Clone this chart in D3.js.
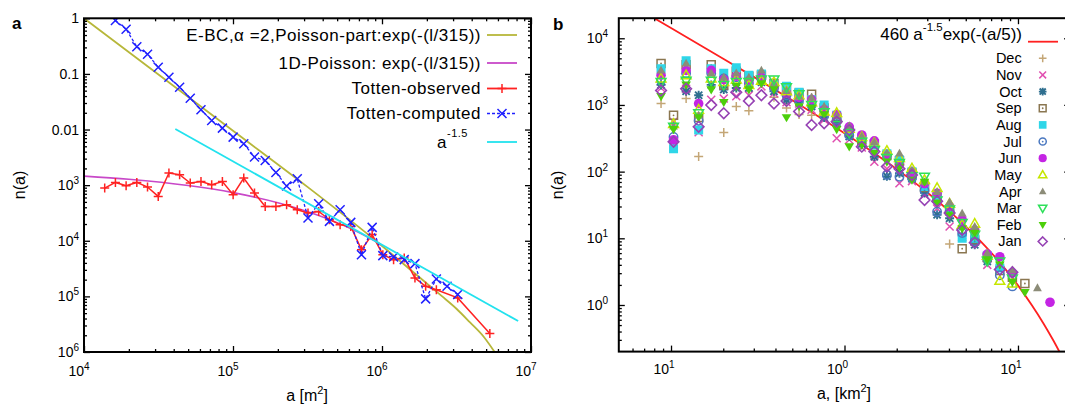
<!DOCTYPE html>
<html>
<head>
<meta charset="utf-8">
<script src="https://cdnjs.cloudflare.com/ajax/libs/d3/7.8.5/d3.min.js"></script>
<style>
html,body{margin:0;padding:0;background:#fff;}
svg text{font-family:"Liberation Sans",Arial,Helvetica,sans-serif;fill:#000;}
</style>
</head>
<body>
<svg id="chart" width="1065" height="408" xmlns="http://www.w3.org/2000/svg"></svg>
<script>
// ================= Panel a data =================
// E-BC, alpha=2, Poisson-part (olive)
const ebcA = [1e4, 1e5, 3.16e5, 8.7e5, 1.58e6, 2.51e6, 3.16e6, 3.9e6, 4.8e6, 5.7e6];
const ebcN = [1, 9.5e-3, 9.3e-4, 1.1e-4, 2.9e-5, 1.02e-5, 6.0e-6, 3.4e-6, 1.9e-6, 1.0e-6];
// 1D-Poisson (magenta)
const poisA = [1e4, 2e4, 5e4, 1e5, 2e5, 3e5, 5e5, 7e5, 1e6];
const poisN = [1.456e-3, 1.277e-3, 9.83e-4, 7.33e-4, 4.83e-4, 3.51e-4, 2.12e-4, 1.40e-4, 8.36e-5];
// a^-1.5 (cyan)
const powA = [4.1e4, 8.2e6];
const powN = [1.02e-2, 3.6e-6];
// Totten-observed (red +)
const obsA = [13770,16250,19170,22620,26690,31490,37150,43830,51650,60970,71940,84890,100200,118100,139400,164500,194100,229000,270000,318700,376000,443700,523500,617100,728100,859100,1013000,1196000,1410000,1664000,1963000,2317000,3222000,5294000];
const obsN = [8.87e-4,1.12e-3,9.75e-4,1.12e-3,9.25e-4,6.27e-4,1.65e-3,1.54e-3,1.09e-3,1.16e-3,1.02e-3,1.16e-3,6.73e-4,1.34e-3,7.21e-4,4.15e-4,4.15e-4,4.45e-4,3.61e-4,3.15e-4,3.37e-4,2.39e-4,1.95e-4,1.81e-4,6.92e-5,1.29e-4,5.62e-5,4.58e-5,4.91e-5,2.15e-5,1.52e-5,1.32e-5,9.40e-6,2.15e-6];
// Totten-computed (blue x)
const compA = [16250,19170,22620,26690,31490,37150,43830,51650,60970,71940,84890,100200,118100,139400,164500,194100,229000,270000,318700,376000,443700,523500,617100,728100,859100,1013000,1196000,1410000,1664000,1963000,2317000,2733000,3222000];
const compN = [0.913,0.635,0.309,0.226,0.132,0.0873,0.0577,0.0366,0.0226,0.0145,0.0106,7.31e-3,5.54e-3,3.20e-3,2.77e-3,1.69e-3,9.64e-4,1.30e-3,2.57e-4,4.63e-4,2.23e-4,3.62e-4,2.14e-4,5.62e-5,1.74e-4,5.40e-5,5.12e-5,4.58e-5,3.88e-5,9.02e-6,2.06e-5,1.52e-5,1.08e-5];

const aXTicks = [1e4, 1e5, 1e6, 1e7];
const aXTickLabels = [["10","4"],["10","5"],["10","6"],["10","7"]];
const aYTicks = [1, 0.1, 0.01, 1e-3, 1e-4, 1e-5, 1e-6];
const aYTickLabels = [["1",""],["0.1",""],["0.01",""],["10","3"],["10","4"],["10","5"],["10","6"]];

// ================= Panel b data =================
const fitA = [0.075,0.1,0.15,0.2,0.3,0.5,0.7,1,1.5,2,3,4,5,6,7,8.5,10,12,14,16,18];
const fitN = [22063,14258,7684,4943,2637,1177,683,376.6,185.5,109.0,48.6,25.8,15.14,9.43,6.13,3.39,1.97,1.00,0.534,0.293,0.165];
// area bins (km^2) shared by all months
const binArea = [0.0876,0.1034,0.1222,0.1443,0.1705,0.2014,0.2378,0.2810,0.3319,0.3921,0.4632,0.5470,0.6462,0.7633,0.9016,1.065,1.258,1.486,1.755,2.074,2.449,2.893,3.418,4.036,4.768,5.632,6.653,7.859,9.284,10.96,12.95,15.30];
const dec = [1050,null,1250,168,null,385,950,820,null,1300,900,720,700,null,null,null,null,null,null,null,null,null,null,8.2,null,null,null,null,null,null,null,null];
const nov = [1800,560,1750,390,1200,1250,1350,1400,1900,1500,1100,1050,850,600,316,300,230,141,110,67,72,45,28,15,10.5,10,4.0,null,null,null,null,null];
const oct = [2000,290,1600,1400,2000,1700,1800,1800,2200,1600,1200,1100,950,650,540,336,260,167,85,95,78,48,22.5,20,11,8,4.5,null,null,null,null,null];
const sep = [4200,700,4000,650,4000,2000,3200,2700,2800,2100,1700,1500,1450,900,650,400,300,260,175,145,95,58,40,26,7,9.4,5.2,3.3,2.6,2.1,null,null];
const aug = [3500,220,4600,420,3500,3000,3600,2800,2900,2000,1900,1550,1200,1000,700,420,320,250,185,150,100,60,42,28,10,10,5.5,3.6,null,null,null,null];
const jul = [2300,330,3000,580,3000,2500,2600,2100,2500,1800,1400,1200,1000,700,600,350,300,230,89,84,80,52,25,25,12,9,5.0,2.8,1.9,null,null,null];
const jun = [2800,300,3300,1050,3300,2400,2700,2300,2600,1900,1500,1300,1200,850,720,470,355,290,170,126,98,66,47.5,30,19,13.3,5.8,5.3,3.0,null,null,1.1];
const may = [2500,520,2800,850,2500,2200,2400,2000,2300,2200,1600,1400,1100,800,760,440,330,270,205,160,112,75,57,33,16,16.6,5.5,2.3,2.1,null,null,null];
const apr = [3300,480,4200,700,3000,2600,3000,2600,3300,2100,1650,1350,1300,950,680,485,340,280,190,188,105,70,50,35,23.7,15,6,null,3.35,null,1.8,null];
const mar = [2200,470,2300,750,2300,2000,2200,2200,2400,2400,1850,1450,1000,780,500,380,280,211,160,135,85,84,37,27,17,11.3,4.6,4.5,2.5,null,null,null];
const feb = [1350,430,2000,650,1700,1100,1900,1700,2100,1700,650,950,900,720,430,237,250,190,140,115,75,70,34,22,14,12,4.8,4.0,2.2,1.55,null,null];
const jan = [1650,280,1750,470,1000,750,1550,1150,1400,1050,1150,800,500,530,562,420,237,200,119,110,89,37.6,36,24,13.3,8.6,null,3.4,3.1,null,null,null];

const bXTicks = [0.1, 1, 10];
const bXTickLabels = [["10","1"],["10","0"],["10","1"]];
const bYTicks = [1e4, 1e3, 100, 10, 1];
const bYTickLabels = [["10","4"],["10","3"],["10","2"],["10","1"],["10","0"]];

// ================= Drawing =================
const svg = d3.select("#chart");
svg.append("rect").attr("width",1065).attr("height",408).attr("fill","#fff");

function minorTicks(lo, hi) {
  const out = [];
  for (let e = Math.floor(Math.log10(lo)) - 1; e <= Math.ceil(Math.log10(hi)); e++) {
    for (let m = 2; m < 10; m++) {
      const v = m * Math.pow(10, e);
      if (v > lo * 1.0001 && v < hi * 0.9999) out.push(v);
    }
  }
  return out;
}

function drawFrame(x, y, xMaj, yMaj, bw) {
  const [xl, xr] = x.range();
  const [yb, yt] = y.range();
  const xd = x.domain(), yd = y.domain();
  const xMin = minorTicks(xd[0], xd[1]), yMin = minorTicks(yd[0], yd[1]);
  const g = svg.append("g");
  const add = (gen, tx, ty, vals, len) => {
    const a = g.append("g").attr("transform", `translate(${tx},${ty})`)
      .call(gen.tickValues(vals).tickSizeInner(-len).tickSizeOuter(0).tickFormat(""));
    a.select(".domain").remove();
    a.selectAll("line").attr("stroke", "#000").attr("stroke-width", 1.3);
  };
  add(d3.axisBottom(x), 0, yb, xMaj, 6); add(d3.axisBottom(x), 0, yb, xMin, 3);
  add(d3.axisTop(x), 0, yt, xMaj, 6);    add(d3.axisTop(x), 0, yt, xMin, 3);
  add(d3.axisLeft(y), xl, 0, yMaj, 6);   add(d3.axisLeft(y), xl, 0, yMin, 3);
  add(d3.axisRight(y), xr, 0, yMaj, 6);  add(d3.axisRight(y), xr, 0, yMin, 3);
  g.append("rect").attr("x", xl).attr("y", yt).attr("width", xr - xl).attr("height", yb - yt)
    .attr("fill", "none").attr("stroke", "#000").attr("stroke-width", bw);
}

function richText(g, x, y, parts, opt) {
  const t = g.append("text").attr("x", x).attr("y", y)
    .attr("font-size", opt.size).attr("text-anchor", opt.anchor || "start");
  if (opt.ls) t.attr("letter-spacing", opt.ls);
  let raised = false;
  parts.forEach(([s, kind]) => {
    if (s === "") return;
    const ts = t.append("tspan").text(s);
    if (kind === "sup") { ts.attr("font-size", opt.supSize).attr("dy", -opt.raise); raised = true; }
    else { ts.attr("font-size", opt.size); if (raised) { ts.attr("dy", opt.raise); raised = false; } }
  });
  return t;
}

// ---------- Panel a ----------
const ax = d3.scaleLog().domain([1e4, 1e7]).range([84, 531]);
const ay = d3.scaleLog().domain([1e-6, 1]).range([352, 18.3]);
svg.append("clipPath").attr("id", "clipA").append("rect")
  .attr("x", 84).attr("y", 18.3).attr("width", 447).attr("height", 333.7);
const pa = svg.append("g").attr("clip-path", "url(#clipA)");

const C_OLIVE = "#b7b73a", C_MAG = "#c848c8", C_RED = "#ff2222", C_BLUE = "#2020ff", C_CYAN = "#22e2ee";
const smoothA = d3.line().x(d => ax(d[0])).y(d => ay(d[1])).curve(d3.curveMonotoneX);
const straightA = d3.line().x(d => ax(d[0])).y(d => ay(d[1]));

pa.append("path").attr("d", smoothA(d3.zip(ebcA, ebcN))).attr("fill", "none").attr("stroke", C_OLIVE).attr("stroke-width", 1.8);
pa.append("path").attr("d", smoothA(d3.zip(poisA, poisN))).attr("fill", "none").attr("stroke", C_MAG).attr("stroke-width", 1.6);
pa.append("path").attr("d", straightA(d3.zip(obsA, obsN))).attr("fill", "none").attr("stroke", C_RED).attr("stroke-width", 1.5);
pa.selectAll(".obs").data(d3.zip(obsA, obsN)).enter().append("path")
  .attr("transform", d => `translate(${ax(d[0])},${ay(d[1])})`)
  .attr("d", "M-4.5,0H4.5M0,-4.5V4.5").attr("stroke", C_RED).attr("stroke-width", 1.5);
pa.append("path").attr("d", straightA(d3.zip(compA, compN))).attr("fill", "none").attr("stroke", C_BLUE)
  .attr("stroke-width", 1.3).attr("stroke-dasharray", "3,2");
pa.selectAll(".comp").data(d3.zip(compA, compN)).enter().append("path")
  .attr("transform", d => `translate(${ax(d[0])},${ay(d[1])})`)
  .attr("d", "M-4.5,-4.5L4.5,4.5M-4.5,4.5L4.5,-4.5").attr("stroke", C_BLUE).attr("stroke-width", 1.5);
pa.append("path").attr("d", straightA(d3.zip(powA, powN))).attr("fill", "none").attr("stroke", C_CYAN).attr("stroke-width", 1.8);

drawFrame(ax, ay, aXTicks, aYTicks, 2);

const labA = svg.append("g");
aXTicks.forEach((v, i) => richText(labA, ax(v) - 5, 375.5, [[aXTickLabels[i][0], "n"], [aXTickLabels[i][1], "sup"]],
  { size: 14, supSize: 10, raise: 6, anchor: "middle" }));
aYTicks.forEach((v, i) => richText(labA, 79, ay(v) + 5, [[aYTickLabels[i][0], "n"], [aYTickLabels[i][1], "sup"]],
  { size: 14, supSize: 10, raise: 6, anchor: "end" }));
richText(labA, 307, 401, [["a [m", "n"], ["2", "sup"], ["]", "n"]], { size: 16, supSize: 11, raise: 7, anchor: "middle" });
labA.append("text").attr("transform", "translate(24.5,185) rotate(-90)").attr("text-anchor", "middle")
  .attr("font-size", 16).text("n(a)");
labA.append("text").attr("x", 12).attr("y", 28.5).attr("font-size", 17).attr("font-weight", "bold").text("a");

// legend a
const legA = svg.append("g");
const legRowsA = [
  { y: 35, parts: [["E-BC,α =2,Poisson-part:exp(-(l/315))", "n"]], color: C_OLIVE, end: 481 },
  { y: 63, parts: [["1D-Poisson: exp(-(l/315))", "n"]], color: C_MAG, end: 481 },
  { y: 88.5, parts: [["Totten-observed", "n"]], color: C_RED, end: 481, mark: "plus" },
  { y: 113.5, parts: [["Totten-computed", "n"]], color: C_BLUE, end: 481, mark: "cross", dash: "3,2" },
  { y: 142, parts: [["a", "n"], ["-1.5", "sup"]], color: C_CYAN, end: 468 }
];
legRowsA.forEach(r => {
  richText(legA, r.end, r.y + 5.5, r.parts, { size: 17, supSize: 11, raise: 11, anchor: "end", ls: "0.5px" });
  const ln = legA.append("line").attr("x1", 487).attr("x2", 517).attr("y1", r.y).attr("y2", r.y)
    .attr("stroke", r.color).attr("stroke-width", r.dash ? 1.3 : 1.8);
  if (r.dash) ln.attr("stroke-dasharray", r.dash);
  if (r.mark === "plus") legA.append("path").attr("transform", `translate(502,${r.y})`).attr("d", "M-4.5,0H4.5M0,-4.5V4.5").attr("stroke", r.color).attr("stroke-width", 1.5);
  if (r.mark === "cross") legA.append("path").attr("transform", `translate(502,${r.y})`).attr("d", "M-4.5,-4.5L4.5,4.5M-4.5,4.5L4.5,-4.5").attr("stroke", r.color).attr("stroke-width", 1.5);
});

// ---------- Panel b ----------
const bx = d3.scaleLog().domain([0.05, 20]).range([618.8, 1070.2]);
const by = d3.scaleLog().domain([0.2, 2e4]).range([351.6, 18.2]);
svg.append("clipPath").attr("id", "clipB").append("rect")
  .attr("x", 618.8).attr("y", 18.2).attr("width", 452).attr("height", 333.4);
const pb = svg.append("g").attr("clip-path", "url(#clipB)");

const smoothB = d3.line().x(d => bx(d[0])).y(d => by(d[1])).curve(d3.curveMonotoneX);
pb.append("path").attr("d", smoothB(d3.zip(fitA, fitN))).attr("fill", "none").attr("stroke", "#ff2020").attr("stroke-width", 1.8);

const SH = {
  plus:   { d: "M-4.5,0H4.5M0,-4.5V4.5", fill: false, sw: 1.5 },
  cross:  { d: "M-4,-4L4,4M-4,4L4,-4", fill: false, sw: 1.5 },
  star:   { d: "M-4.5,0H4.5M0,-4.5V4.5M-3.6,-3.6L3.6,3.6M-3.6,3.6L3.6,-3.6", fill: false, sw: 1.9 },
  osq:    { d: "M-4,-4H4V4H-4Z", fill: false, sw: 1.5, dot: true },
  fsq:    { d: "M-4.5,-4.5H4.5V4.5H-4.5Z", fill: true },
  ocirc:  { d: "M-4.2,0A4.2,4.2 0 1,0 4.2,0A4.2,4.2 0 1,0 -4.2,0Z", fill: false, sw: 1.5, dot: true },
  fcirc:  { d: "M-4.8,0A4.8,4.8 0 1,0 4.8,0A4.8,4.8 0 1,0 -4.8,0Z", fill: true },
  otri:   { d: "M0,-5.1L4.9,3.5L-4.9,3.5Z", fill: false, sw: 1.5 },
  ftri:   { d: "M0,-4.6L4.4,3.2L-4.4,3.2Z", fill: true },
  otrid:  { d: "M0,5.1L4.9,-3.5L-4.9,-3.5Z", fill: false, sw: 1.5 },
  ftrid:  { d: "M0,4.9L4.8,-3.3L-4.8,-3.3Z", fill: true },
  odiam:  { d: "M0,-5.3L5.3,0L0,5.3L-5.3,0Z", fill: false, sw: 1.6 }
};
const months = [
  { name: "Dec", vals: dec, color: "#c4a676", shape: "plus" },
  { name: "Nov", vals: nov, color: "#e04fb0", shape: "cross" },
  { name: "Oct", vals: oct, color: "#2f6f8f", shape: "star" },
  { name: "Sep", vals: sep, color: "#8a7650", shape: "osq" },
  { name: "Aug", vals: aug, color: "#2fd6e8", shape: "fsq" },
  { name: "Jul", vals: jul, color: "#4a78c0", shape: "ocirc" },
  { name: "Jun", vals: jun, color: "#c424e4", shape: "fcirc" },
  { name: "May", vals: may, color: "#c6e600", shape: "otri" },
  { name: "Apr", vals: apr, color: "#8c8c78", shape: "ftri" },
  { name: "Mar", vals: mar, color: "#2ee05a", shape: "otrid" },
  { name: "Feb", vals: feb, color: "#4ccf0a", shape: "ftrid" },
  { name: "Jan", vals: jan, color: "#9642b4", shape: "odiam" }
];
function drawMark(g, x, y, m, k) {
  const s = SH[m.shape];
  const p = g.append("path").attr("transform", `translate(${x},${y}) scale(${k || 1})`).attr("d", s.d);
  if (s.fill) p.attr("fill", m.color).attr("stroke", "none");
  else p.attr("fill", "none").attr("stroke", m.color).attr("stroke-width", s.sw / (k || 1));
  if (s.dot) g.append("circle").attr("cx", x).attr("cy", y).attr("r", 0.9).attr("fill", m.color);
}
months.forEach(m => {
  const g = pb.append("g");
  m.vals.forEach((v, j) => { if (v !== null) drawMark(g, bx(binArea[j]), by(v), m, 1); });
});

drawFrame(bx, by, bXTicks, bYTicks, 2);

const labB = svg.append("g");
bXTicks.forEach((v, i) => richText(labB, bx(v) - 7, 374, [[bXTickLabels[i][0], "n"], [bXTickLabels[i][1], "sup"]],
  { size: 14, supSize: 10, raise: 6, anchor: "middle" }));
bYTicks.forEach((v, i) => richText(labB, 608, by(v) + 5, [[bYTickLabels[i][0], "n"], [bYTickLabels[i][1], "sup"]],
  { size: 14, supSize: 10, raise: 6, anchor: "end" }));
richText(labB, 844, 399, [["a, [km", "n"], ["2", "sup"], ["]", "n"]], { size: 16, supSize: 11, raise: 7, anchor: "middle" });
labB.append("text").attr("transform", "translate(563,185) rotate(-90)").attr("text-anchor", "middle")
  .attr("font-size", 16).text("n(a)");
labB.append("text").attr("x", 553).attr("y", 30).attr("font-size", 17).attr("font-weight", "bold").text("b");

// legend b
const legB = svg.append("g");
richText(legB, 1022, 39.5, [["460 a", "n"], ["-1.5", "sup"], ["exp(-(a/5))", "n"]], { size: 17, supSize: 11.5, raise: 9, anchor: "end" });
legB.append("line").attr("x1", 1028).attr("x2", 1058).attr("y1", 41.7).attr("y2", 41.7).attr("stroke", "#ff2020").attr("stroke-width", 1.8);
months.forEach((m, i) => {
  const yy = 58.3 + i * 16.65;
  legB.append("text").attr("x", 1021.7).attr("y", yy + 5).attr("text-anchor", "end").attr("font-size", 14.5).text(m.name);
  drawMark(legB, 1042.7, yy, m, 0.85);
});
</script>
</body>
</html>
